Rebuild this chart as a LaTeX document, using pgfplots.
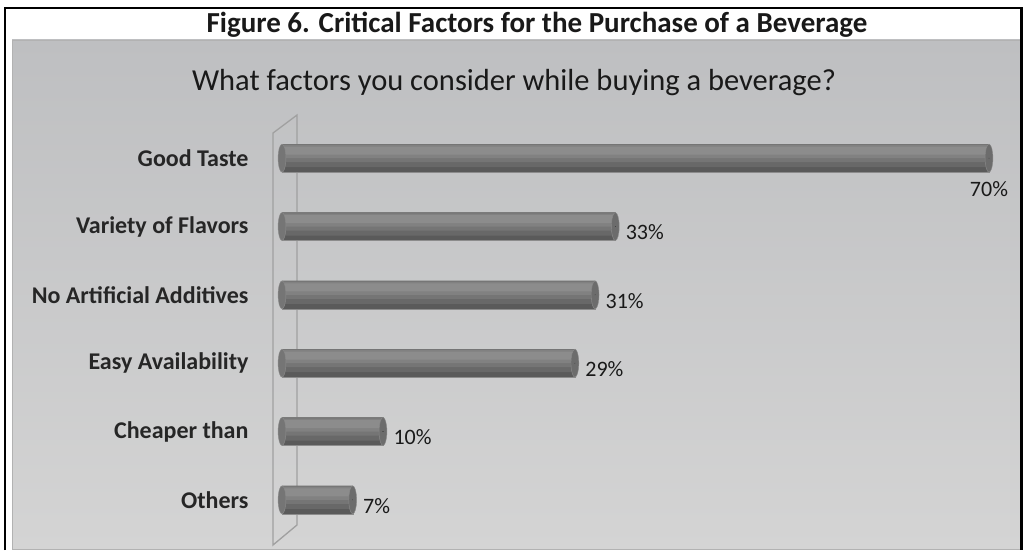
\documentclass[border=0pt]{standalone}
\usepackage{pgfplots}
\pgfplotsset{compat=1.18}
\usepackage{pgfplotstable}
\usepackage{fontspec}
\setmainfont{Carlito}
\definecolor{paneltop}{RGB}{190,191,193}
\definecolor{panelmid}{RGB}{232,232,232}
\definecolor{panelbot}{RGB}{212,212,212}
\definecolor{wallc}{RGB}{160,160,160}
\definecolor{lay1}{RGB}{90,90,90}
\definecolor{lay2}{RGB}{104,104,104}
\definecolor{lay3}{RGB}{117,117,117}
\definecolor{lay4}{RGB}{129,129,129}
\definecolor{lay5}{RGB}{140,140,140}
\definecolor{barcap}{RGB}{108,108,108}
\definecolor{barline}{RGB}{140,140,140}
\pgfplotstableread{
v y
70 5
33 4
31 3
29 2
10 1
7 0
}\datatab
\begin{document}
\begin{tikzpicture}[x=1pt,y=1pt]
\useasboundingbox (0,0) rectangle (1024,550);
\fill[white] (0,0) rectangle (1024,550);
% panel
\shade[top color=paneltop, middle color=panelmid, bottom color=panelbot, shading angle=0] (12,1) rectangle (1021,510);
\draw[gray!60, line width=0.6pt] (12,1) rectangle (1021,510);
% outer frame
\draw[black, line width=2.5pt] (5,0) -- (5,542) -- (1021.5,542) -- (1021.5,0);
% titles
\node[font=\fontsize{29}{32}\selectfont\bfseries, text=black!90] at (537,525) {Figure 6. Critical Factors for the Purchase of a Beverage};
\node[font=\fontsize{30.5}{34}\selectfont, text=black!90] at (514,467) {What factors you consider while buying a beverage?};
% wall
\draw[wallc, line width=1.3pt] (273,5) -- (273,417) -- (297,435) -- (297,25) -- cycle;
\begin{axis}[
  at={(282pt,16pt)}, anchor=south west,
  scale only axis, width=707pt, height=410pt,
  xmin=0, xmax=70, ymin=-0.5, ymax=5.5,
  axis line style={draw=none}, xtick=\empty,
  ytick={0,1,2,3,4,5},
  yticklabels={Others, Cheaper than\ , Easy Availability\ , No Artificial Additives, Variety of Flavors, Good Taste},
  ytick style={draw=none},
  yticklabel style={font=\fontsize{24}{26}\selectfont\bfseries, text=black!85, xshift=-30pt},
  clip=false,
  /pgf/number format/assume math mode=true,
]
% rounded left ends
\addplot[only marks, mark=*, mark size=14pt, mark options={xscale=0.28, fill=lay3, draw=barline, line width=0.4pt}]
  table[x expr=0, y=y] {\datatab};
% cylinder body as stacked bands
\addplot[xbar, bar width=28pt, bar shift=0pt, fill=lay1, draw=barline, line width=0.4pt] table[x=v, y=y] {\datatab};
\addplot[xbar, bar width=23pt, bar shift=2.5pt, fill=lay2, draw=none] table[x=v, y=y] {\datatab};
\addplot[xbar, bar width=18pt, bar shift=5pt, fill=lay3, draw=none] table[x=v, y=y] {\datatab};
\addplot[xbar, bar width=13pt, bar shift=6.5pt, fill=lay4, draw=none] table[x=v, y=y] {\datatab};
\addplot[xbar, bar width=8pt, bar shift=7.5pt, fill=lay5, draw=none] table[x=v, y=y] {\datatab};
% end caps
\addplot[only marks, mark=*, mark size=14pt, mark options={xscale=0.28, fill=barcap, draw=barline, line width=0.4pt}]
  table[x=v, y=y] {\datatab};
% value labels
\addplot[only marks, mark=*, mark size=0.01pt, mark options={draw=none, fill=none},
  nodes near coords={\pgfmathprintnumber{\pgfplotspointmeta}\%}, point meta=x,
  every node near coord/.append style={font=\fontsize{22}{24}\selectfont, text=black!90, anchor=north, xshift=0pt, yshift=-20pt}]
  coordinates {(70,5)};
\addplot[only marks, mark=*, mark size=0.01pt, mark options={draw=none, fill=none},
  nodes near coords={\pgfmathprintnumber{\pgfplotspointmeta}\%}, point meta=x,
  every node near coord/.append style={font=\fontsize{22}{24}\selectfont, text=black!90, anchor=west, xshift=7pt, yshift=-6pt}]
  coordinates {(33,4) (31,3) (29,2) (10,1) (7,0)};
\end{axis}
\end{tikzpicture}
\end{document}
